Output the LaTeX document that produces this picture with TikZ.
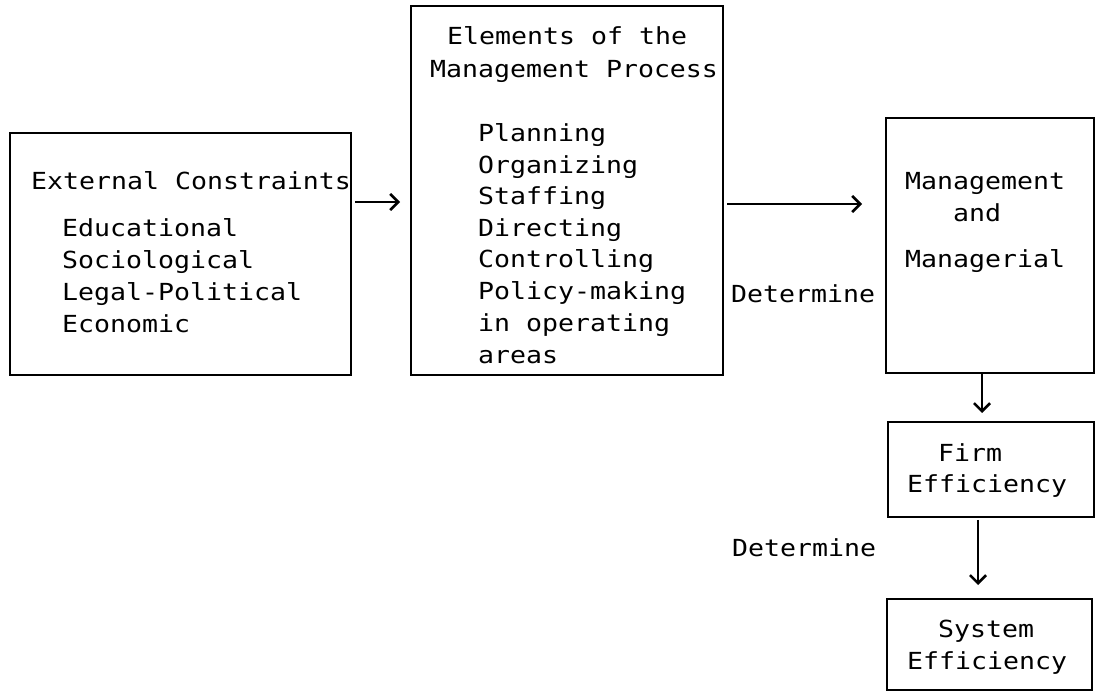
\documentclass[tikz,border=0pt]{standalone}
\usepackage{fontspec}
\setmonofont[FakeStretch=1.13]{DejaVu Sans Mono}
\usetikzlibrary{arrows.meta}
\begin{document}
\begin{tikzpicture}[x=1pt,y=-1pt,
  box/.style={draw,line width=2.4pt,inner sep=0pt,outer sep=0pt},
  txt/.style={anchor=base west,inner sep=0pt,font=\ttfamily\fontsize{23.5}{30}\selectfont},
  arr/.style={line width=2.6pt,-{Straight Barb[length=8pt,width=16pt,line width=2.6pt]}}]
\useasboundingbox (0,0) rectangle (1096,692);
% boxes
\node[box,minimum width=341pt,minimum height=242pt] (b1) at (180.5,254) {};
\node[box,minimum width=312pt,minimum height=369pt] (b2) at (567,190.5) {};
\node[box,minimum width=208pt,minimum height=255pt] (b3) at (990,245.5) {};
\node[box,minimum width=206pt,minimum height=95pt] (b4) at (991,469.5) {};
\node[box,minimum width=205pt,minimum height=91pt] (b5) at (989.5,644.5) {};
% box 1 text
\node[txt] (t11) at (31,190) {External Constraints};
\node[txt] (t12) at (62,237) {Educational};
\node[txt] (t13) at (62,269) {Sociological};
\node[txt] (t14) at (62,301) {Legal-Political};
\node[txt] (t15) at (62,333) {Economic};
% box 2 text
\node[txt] (t21) at (447,45) {Elements of the};
\node[txt] (t22) at (430,78) {Management Process};
\node[txt] (t23) at (478,142) {Planning};
\node[txt] (t24) at (478,174) {Organizing};
\node[txt] (t25) at (478,205) {Staffing};
\node[txt] (t26) at (478,237) {Directing};
\node[txt] (t27) at (478,268) {Controlling};
\node[txt] (t28) at (478,300) {Policy-making};
\node[txt] (t29) at (478,332) {in operating};
\node[txt] (t2a) at (478,364) {areas};
% box 3 text
\node[txt] (t31) at (905,190) {Management};
\node[txt] (t32) at (953,222) {and};
\node[txt] (t33) at (905,268) {Managerial};
% box 4, 5 text
\node[txt] (t41) at (938,462) {Firm};
\node[txt] (t42) at (907,493) {Efficiency};
\node[txt] (t51) at (938,637) {System};
\node[txt] (t52) at (907,669) {Efficiency};
% labels
\node[txt] (d1) at (731,303) {Determine};
\node[txt] (d2) at (732,557) {Determine};
% connectors
\draw[arr,shorten <=4pt,shorten >=11pt] ([yshift=52pt]b1.east) -- ([yshift=52pt]b1.east -| b2.west);
\draw[arr,shorten <=4pt,shorten >=24pt] ([yshift=-13.5pt]b2.east) -- ([yshift=-13.5pt]b2.east -| b3.west);
\draw[arr,shorten >=9pt] ([xshift=-8pt]b3.south) -- ([xshift=-8pt]b3.south |- b4.north);
\draw[arr,shorten <=3pt,shorten >=14pt] ([xshift=-13pt]b4.south) -- ([xshift=-13pt]b4.south |- b5.north);
\end{tikzpicture}
\end{document}
